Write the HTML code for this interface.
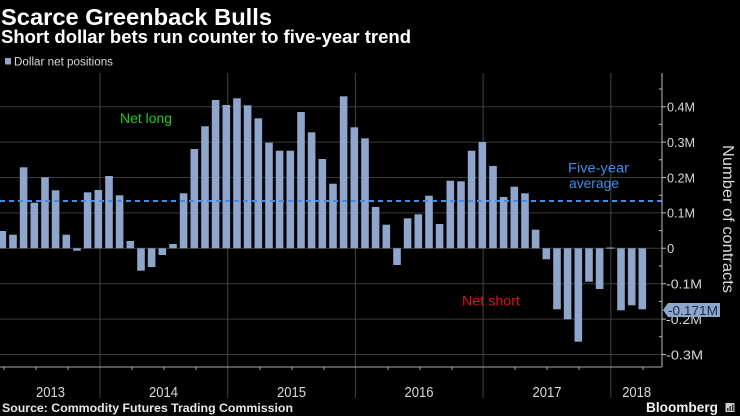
<!DOCTYPE html>
<html>
<head>
<meta charset="utf-8">
<style>
html,body{margin:0;padding:0;background:#000;}
svg{display:block;}
text{font-family:"Liberation Sans",Arial,sans-serif;}
</style>
</head>
<body>
<svg width="740" height="416" viewBox="0 0 740 416" xmlns="http://www.w3.org/2000/svg">
<rect x="0" y="0" width="740" height="416" fill="#000"/>
<text x="1" y="25" font-size="23.5" font-weight="bold" fill="#fff" textLength="271" lengthAdjust="spacingAndGlyphs">Scarce Greenback Bulls</text>
<text x="1" y="43" font-size="18.5" font-weight="bold" fill="#fff" textLength="410" lengthAdjust="spacingAndGlyphs">Short dollar bets run counter to five-year trend</text>
<rect x="5" y="58" width="6" height="6.5" fill="#8ea6cb"/>
<text x="14" y="65.5" font-size="11.5" fill="#d8d8d8" textLength="99" lengthAdjust="spacingAndGlyphs">Dollar net positions</text>
<g stroke="#3a3a3a" stroke-width="1">
<line x1="0" y1="106.7" x2="662" y2="106.7"/>
<line x1="0" y1="142.1" x2="662" y2="142.1"/>
<line x1="0" y1="177.5" x2="662" y2="177.5"/>
<line x1="0" y1="212.9" x2="662" y2="212.9"/>
<line x1="0" y1="248.3" x2="662" y2="248.3"/>
<line x1="0" y1="283.7" x2="662" y2="283.7"/>
<line x1="0" y1="319.1" x2="662" y2="319.1"/>
<line x1="0" y1="354.5" x2="662" y2="354.5"/>
</g>
<g stroke="#444" stroke-width="1">
<line x1="100" y1="73" x2="100" y2="398"/>
<line x1="227.7" y1="73" x2="227.7" y2="398"/>
<line x1="355.4" y1="73" x2="355.4" y2="398"/>
<line x1="483.1" y1="73" x2="483.1" y2="398"/>
<line x1="610.8" y1="73" x2="610.8" y2="398"/>
</g>
<g fill="#8ea6cb">
<rect x="-1.5" y="231" width="7.6" height="17.3"/>
<rect x="9.2" y="234.7" width="7.6" height="13.6"/>
<rect x="19.8" y="167.3" width="7.6" height="81"/>
<rect x="30.5" y="202.7" width="7.6" height="45.6"/>
<rect x="41.2" y="177.3" width="7.6" height="71"/>
<rect x="51.8" y="190.3" width="7.6" height="58"/>
<rect x="62.5" y="234.7" width="7.6" height="13.6"/>
<rect x="73.2" y="248.3" width="7.6" height="2.4"/>
<rect x="83.8" y="192.3" width="7.6" height="56"/>
<rect x="94.5" y="190" width="7.6" height="58.3"/>
<rect x="105.2" y="176" width="7.6" height="72.3"/>
<rect x="115.8" y="195.3" width="7.6" height="53"/>
<rect x="126.5" y="241" width="7.6" height="7.3"/>
<rect x="137.2" y="248.3" width="7.6" height="22.4"/>
<rect x="147.8" y="248.3" width="7.6" height="18.7"/>
<rect x="158.5" y="248.3" width="7.6" height="6.7"/>
<rect x="169.2" y="244" width="7.6" height="4.3"/>
<rect x="179.8" y="193.3" width="7.6" height="55"/>
<rect x="190.5" y="149" width="7.6" height="99.3"/>
<rect x="201.2" y="126.3" width="7.6" height="122"/>
<rect x="211.8" y="100" width="7.6" height="148.3"/>
<rect x="222.5" y="105" width="7.6" height="143.3"/>
<rect x="233.2" y="98.3" width="7.6" height="150"/>
<rect x="243.8" y="105.3" width="7.6" height="143"/>
<rect x="254.5" y="118.3" width="7.6" height="130"/>
<rect x="265.2" y="142.7" width="7.6" height="105.6"/>
<rect x="275.8" y="150.7" width="7.6" height="97.6"/>
<rect x="286.5" y="150.7" width="7.6" height="97.6"/>
<rect x="297.2" y="112" width="7.6" height="136.3"/>
<rect x="307.8" y="132.3" width="7.6" height="116"/>
<rect x="318.5" y="159" width="7.6" height="89.3"/>
<rect x="329.2" y="183.7" width="7.6" height="64.6"/>
<rect x="339.8" y="96.3" width="7.6" height="152"/>
<rect x="350.5" y="127.3" width="7.6" height="121"/>
<rect x="361.2" y="138.3" width="7.6" height="110"/>
<rect x="371.8" y="207" width="7.6" height="41.3"/>
<rect x="382.5" y="224.7" width="7.6" height="23.6"/>
<rect x="393.2" y="248.3" width="7.6" height="16.7"/>
<rect x="403.8" y="218.3" width="7.6" height="30"/>
<rect x="414.5" y="214.3" width="7.6" height="34"/>
<rect x="425.2" y="195.7" width="7.6" height="52.6"/>
<rect x="435.8" y="224" width="7.6" height="24.3"/>
<rect x="446.5" y="180.7" width="7.6" height="67.6"/>
<rect x="457.2" y="181.3" width="7.6" height="67"/>
<rect x="467.8" y="150.7" width="7.6" height="97.6"/>
<rect x="478.5" y="142" width="7.6" height="106.3"/>
<rect x="489.2" y="166" width="7.6" height="82.3"/>
<rect x="499.8" y="197" width="7.6" height="51.3"/>
<rect x="510.5" y="186.7" width="7.6" height="61.6"/>
<rect x="521.2" y="193.3" width="7.6" height="55"/>
<rect x="531.8" y="229.7" width="7.6" height="18.6"/>
<rect x="542.5" y="248.3" width="7.6" height="11"/>
<rect x="553.2" y="248.3" width="7.6" height="61"/>
<rect x="563.8" y="248.3" width="7.6" height="71"/>
<rect x="574.5" y="248.3" width="7.6" height="93.4"/>
<rect x="585.2" y="248.3" width="7.6" height="33.4"/>
<rect x="595.8" y="248.3" width="7.6" height="40.7"/>
<rect x="606.5" y="247.5" width="7.6" height="1.2"/>
<rect x="617.2" y="248.3" width="7.6" height="62"/>
<rect x="627.9" y="248.3" width="7.6" height="57"/>
<rect x="638.5" y="248.3" width="7.6" height="61"/>
</g>
<line x1="0" y1="201" x2="662" y2="201" stroke="#3d8ee6" stroke-width="2" stroke-dasharray="5,4"/>
<text x="120" y="123" font-size="14" fill="#22cc22" textLength="52" lengthAdjust="spacingAndGlyphs">Net long</text>
<text x="462" y="305.5" font-size="14" fill="#e0101a" textLength="58" lengthAdjust="spacingAndGlyphs">Net short</text>
<text x="568" y="172.5" font-size="14" fill="#3d8ee6" textLength="61" lengthAdjust="spacingAndGlyphs">Five-year</text>
<text x="569" y="188" font-size="14" fill="#3d8ee6" textLength="50" lengthAdjust="spacingAndGlyphs">average</text>
<line x1="0" y1="367" x2="662" y2="367" stroke="#aaa" stroke-width="1"/>
<path d="M4 367v3M36 367v3M68 367v3M132 367v3M164 367v3M196 367v3M260 367v3M292 367v3M324 367v3M388 367v3M420 367v3M452 367v3M515 367v3M547 367v3M579 367v3M643 367v3" stroke="#aaa" stroke-width="1"/>
<g font-size="14.5" fill="#d8d8d8" text-anchor="middle">
<text x="50.5" y="397" textLength="29" lengthAdjust="spacingAndGlyphs">2013</text>
<text x="163.5" y="397" textLength="29" lengthAdjust="spacingAndGlyphs">2014</text>
<text x="291.5" y="397" textLength="29" lengthAdjust="spacingAndGlyphs">2015</text>
<text x="419" y="397" textLength="29" lengthAdjust="spacingAndGlyphs">2016</text>
<text x="547" y="397" textLength="29" lengthAdjust="spacingAndGlyphs">2017</text>
<text x="636.7" y="397" textLength="29" lengthAdjust="spacingAndGlyphs">2018</text>
</g>
<line x1="662" y1="73" x2="662" y2="367" stroke="#bbb" stroke-width="1"/>
<path d="M662 106.7h4M662 142.1h4M662 177.5h4M662 212.9h4M662 248.3h4M662 283.7h4M662 319.1h4M662 354.5h4M659 89h3M659 124.4h3M659 159.8h3M659 195.2h3M659 230.6h3M659 266h3M659 301.4h3M659 336.8h3" stroke="#bbb" stroke-width="1"/>
<g font-size="13" fill="#d8d8d8">
<text x="667" y="111.5" textLength="28" lengthAdjust="spacingAndGlyphs">0.4M</text>
<text x="667" y="146.9" textLength="28" lengthAdjust="spacingAndGlyphs">0.3M</text>
<text x="667" y="182.3" textLength="28" lengthAdjust="spacingAndGlyphs">0.2M</text>
<text x="667" y="217.7" textLength="28" lengthAdjust="spacingAndGlyphs">0.1M</text>
<text x="667" y="253.1">0</text>
<text x="666" y="288.5" textLength="36" lengthAdjust="spacingAndGlyphs">-0.1M</text>
<text x="666" y="323.9" textLength="36" lengthAdjust="spacingAndGlyphs">-0.2M</text>
<text x="666" y="359.3" textLength="37" lengthAdjust="spacingAndGlyphs">-0.3M</text>
</g>
<polygon points="663,310 668,303 720,303 720,317 668,317" fill="#8ea6cb"/>
<text x="668" y="315" font-size="13" fill="#1c2d4a" textLength="50" lengthAdjust="spacingAndGlyphs">-0.171M</text>
<text x="0" y="0" font-size="16" fill="#d8d8d8" text-anchor="middle" transform="translate(723,219) rotate(90)" textLength="148" lengthAdjust="spacingAndGlyphs">Number of contracts</text>
<text x="2" y="412" font-size="12.3" font-weight="bold" fill="#e8e8e8" textLength="291" lengthAdjust="spacingAndGlyphs">Source: Commodity Futures Trading Commission</text>
<text x="646" y="412" font-size="13.6" font-weight="bold" fill="#f2f2f2" textLength="72" lengthAdjust="spacingAndGlyphs">Bloomberg</text>
<rect x="725.5" y="403" width="9" height="9" fill="#cfcfcf"/>
<rect x="727" y="408" width="1.5" height="3" fill="#333"/>
<rect x="729.5" y="406" width="1.5" height="5" fill="#333"/>
<rect x="732" y="404.5" width="1.5" height="6.5" fill="#333"/>
</svg>
</body>
</html>
